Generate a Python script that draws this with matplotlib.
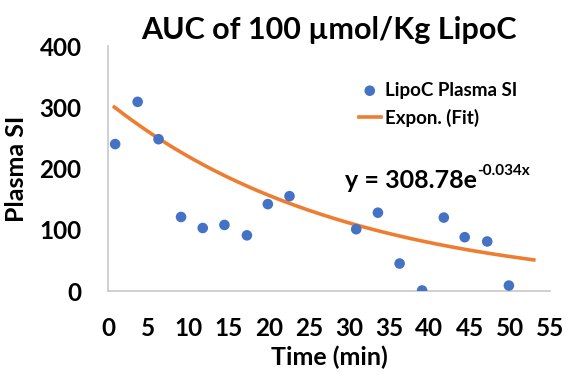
import numpy as np
import matplotlib.pyplot as plt

plt.rcParams["font.family"] = ["Lato", "DejaVu Sans"]
plt.rcParams["font.weight"] = "bold"

# Plasma signal intensity sampled over time
time_min = [0.9, 3.7, 6.3, 9.1, 11.8, 14.5, 17.3, 19.9, 22.6,
            30.9, 33.6, 36.3, 39.1, 41.8, 44.4, 47.2, 49.9]
plasma_si = [240, 309, 248, 121, 103, 108, 91, 142, 155,
             101, 128, 45, 1, 120, 88, 81, 9]

# Exponential fit parameters
fit_a = 308.78
fit_k = 0.034
fit_range = (0.8, 53.0)

blue = "#4472C4"
orange = "#ED7D31"
axis_grey = "#C8C8C8"


def main():
    fig = plt.figure(figsize=(5.71, 3.81), dpi=100)
    ax = fig.add_axes([0.189, 0.236, 0.774, 0.643])

    x_fit = np.linspace(*fit_range, 200)
    ax.plot(x_fit, fit_a * np.exp(-fit_k * x_fit), color=orange, lw=2.6,
            label="Expon. (Fit)", zorder=2)
    ax.scatter(time_min, plasma_si, s=58, color=blue, edgecolors="none",
               label="LipoC Plasma SI", zorder=3)

    ax.set_xlim(0, 55)
    ax.set_ylim(0, 400)
    ax.set_xticks(range(0, 56, 5))
    ax.set_yticks(range(0, 401, 100))
    ax.tick_params(length=0, labelsize=17.5)
    ax.tick_params(axis="y", pad=19)
    ax.tick_params(axis="x", pad=19)
    for side in ("top", "right"):
        ax.spines[side].set_visible(False)
    for side in ("left", "bottom"):
        ax.spines[side].set_color(axis_grey)
        ax.spines[side].set_linewidth(1.2)

    ax.set_title("AUC of 100 µmol/Kg LipoC", fontsize=22, fontweight="bold", pad=5)
    ax.set_xlabel("Time (min)", fontsize=18, fontweight="bold", labelpad=4)
    ax.set_ylabel("Plasma SI", fontsize=18, fontweight="bold", labelpad=8)

    handles, labels = ax.get_legend_handles_labels()
    ax.legend(handles[::-1], labels[::-1], loc="upper left",
              bbox_to_anchor=(0.567, 0.855), frameon=False, fontsize=13.5,
              handlelength=1.2, handletextpad=0.2, labelspacing=0.55,
              borderaxespad=0, borderpad=0)

    # Fit equation, with the exponent set as a superscript
    eq = ax.text(0.536, 0.453, f"y = {fit_a:.2f}e", transform=ax.transAxes,
                 fontsize=18, fontweight="bold", va="center", ha="left")
    ax.annotate(f"-{fit_k:.3f}x", xy=(1.0, 0.6), xycoords=eq,
                fontsize=11, fontweight="bold", va="bottom", ha="left")

    fig.savefig("out.png", dpi=100)


if __name__ == "__main__":
    main()
